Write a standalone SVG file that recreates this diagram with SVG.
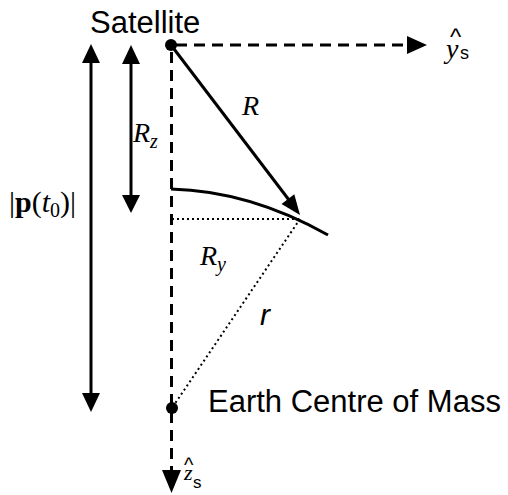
<svg xmlns="http://www.w3.org/2000/svg" width="508" height="495" viewBox="0 0 508 495">
<style>
.sans{font-family:"Liberation Sans",Arial,sans-serif;fill:#000}
.serif{font-family:"Liberation Serif","Times New Roman",serif;fill:#000}
.it{font-style:italic}
.solid{stroke:#000;stroke-width:3;fill:none}
.dash{stroke:#000;stroke-width:3;fill:none;stroke-dasharray:11,7}
.dot{stroke:#000;stroke-width:2;fill:none;stroke-dasharray:2,3}
.head{fill:#000;stroke:none}
</style>
<rect width="508" height="495" fill="#fff"/>
<g id="connectors">
  <!-- y_s axis -->
  <line class="dash" x1="176" y1="45" x2="408" y2="45"/>
  <polygon class="head" points="427,45 407,36 407,54"/>
  <!-- z_s axis -->
  <line class="dash" x1="171.5" y1="52" x2="171.5" y2="470"/>
  <polygon class="head" points="171.5,493 162,470 181,470"/>
  <!-- |p(t0)| double arrow -->
  <line class="solid" x1="91" y1="60" x2="91" y2="396"/>
  <polygon class="head" points="91,44 82,63 100,63"/>
  <polygon class="head" points="91,412 82,393 100,393"/>
  <!-- Rz double arrow -->
  <line class="solid" x1="131" y1="60" x2="131" y2="198"/>
  <polygon class="head" points="131,45 122,64 140,64"/>
  <polygon class="head" points="131,213 122,195 140,195"/>
  <!-- R arrow -->
  <line class="solid" x1="171" y1="45" x2="289" y2="200"/>
  <polygon class="head" points="300,215 281.5,203.9 294.3,194.3"/>
  <!-- Earth surface -->
  <path class="solid" d="M171,189 Q250,191 328,235" stroke-width="2.5"/>
  <!-- Ry dotted -->
  <line class="dot" x1="172" y1="219" x2="300" y2="219"/>
  <!-- r dotted -->
  <line class="dot" x1="300" y1="219" x2="172" y2="408"/>
</g>
<g id="satellite">
  <circle cx="171" cy="45" r="6" fill="#000"/>
  <text class="sans" x="90" y="33" font-size="31">Satellite</text>
</g>
<g id="earth">
  <circle cx="172" cy="408" r="6" fill="#000"/>
  <text class="sans" x="208" y="412" font-size="31">Earth Centre of Mass</text>
</g>
<g id="label-ys">
  <text class="sans"><tspan x="450" y="45" font-size="24">^</tspan><tspan class="serif" font-style="italic" x="446" y="58" font-size="28">y</tspan><tspan x="460" y="59" font-size="18">s</tspan></text>
</g>
<g id="label-zs">
  <text class="sans"><tspan x="184" y="472" font-size="20">^</tspan><tspan class="serif" font-style="italic" x="184" y="480" font-size="22">z</tspan><tspan x="193" y="488" font-size="17">s</tspan></text>
</g>
<g id="label-R">
  <text class="serif it" x="242" y="115" font-size="28">R</text>
</g>
<g id="label-Rz">
  <text class="serif it" x="133" y="142" font-size="28">R<tspan font-size="20" dy="6">z</tspan></text>
</g>
<g id="label-Ry">
  <text class="serif it" x="200" y="265" font-size="28">R<tspan font-size="20" dy="6">y</tspan></text>
</g>
<g id="label-r">
  <text class="sans it" x="260" y="325" font-size="30">r</text>
</g>
<g id="label-p">
  <text class="serif" x="9" y="212" font-size="30">|<tspan font-weight="bold">p</tspan>(<tspan font-style="italic">t</tspan><tspan font-size="20" dy="5">0</tspan><tspan dy="-5">)|</tspan></text>
</g>
</svg>
